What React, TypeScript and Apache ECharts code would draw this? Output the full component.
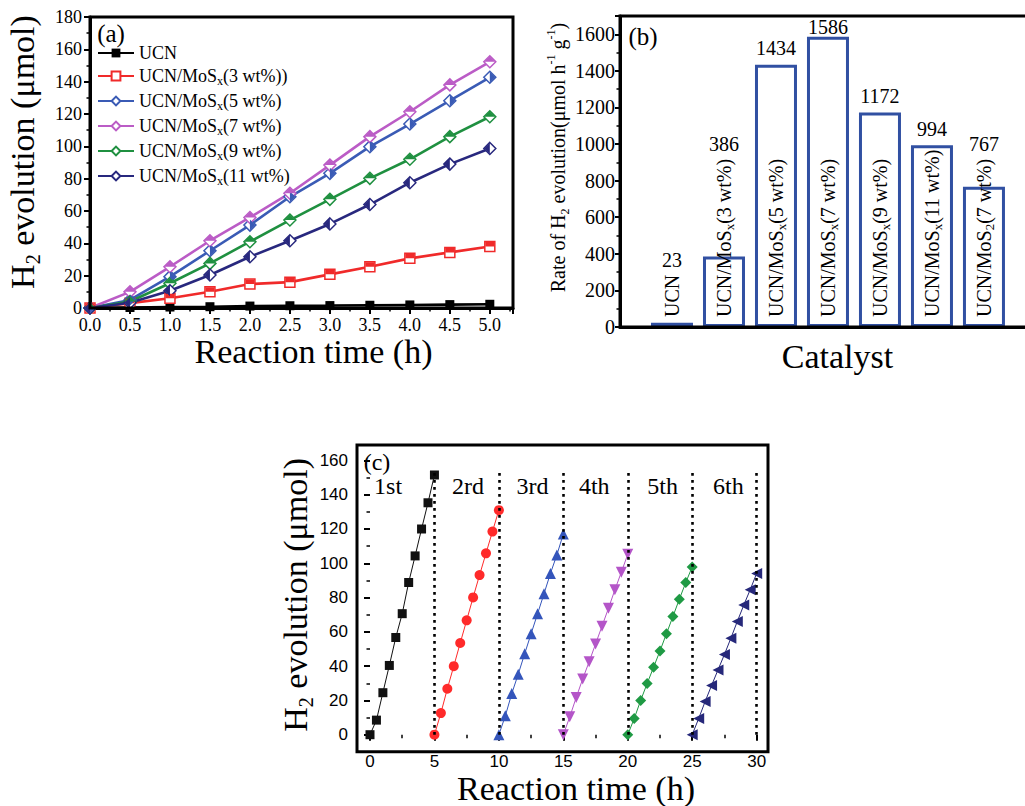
import React, { useEffect, useRef } from 'react';
import * as echarts from 'echarts';

const SERIF = 'Liberation Serif, Times New Roman, serif';
const SANS = 'Liberation Sans, Arial, sans-serif';

// ---------- Panel (a) ----------
const timesA = [0, 0.5, 1, 1.5, 2, 2.5, 3, 3.5, 4, 4.5, 5];
const ucn = [0, 0.3, 0.6, 0.8, 1.2, 1.4, 1.5, 1.7, 1.9, 2.1, 2.3];
const mos3 = [0, 3, 6, 10, 14.8, 16, 20.8, 25.5, 30.7, 34.4, 38];
const mos5 = [0, 5, 19.4, 35.4, 51.3, 68.8, 83.3, 99.8, 113.8, 128.2, 142.7];
const mos7 = [0, 10, 25.5, 41.6, 56, 71, 88.4, 106, 121.4, 138, 152.3];
const mos9 = [0, 4, 15.3, 27.6, 41, 54.4, 67.2, 80.2, 92, 106, 118.3];
const mos11 = [0, 3.3, 10.7, 20.4, 31.7, 41.6, 52, 64, 77.5, 89, 98.7];
const namesA = ['UCN', 'UCN/MoSx(3 wt%))', 'UCN/MoSx(5 wt%)', 'UCN/MoSx(7 wt%)', 'UCN/MoSx(9 wt%)', 'UCN/MoSx(11 wt%)'];
const valuesA = [ucn, mos3, mos5, mos7, mos9, mos11];
const colorsA = ['#000000', '#f02a2a', '#3a5bb5', '#bb5cc6', '#1f9040', '#28287e'];

// ---------- Panel (b) ----------
const catalysts = ['UCN', 'UCN/MoSx(3 wt%)', 'UCN/MoSx(5 wt%)', 'UCN/MoSx(7 wt%)', 'UCN/MoSx(9 wt%)', 'UCN/MoSx(11 wt%)', 'UCN/MoS2(7 wt%)'];
const rates = [23, 386, 1434, 1586, 1172, 994, 767];

// ---------- Panel (c) ----------
const cycleStarts = [0, 5, 10, 15, 20, 25];
const cycleSteps = [0, 0.5, 1, 1.5, 2, 2.5, 3, 3.5, 4, 4.5, 5];
const cycle1 = [0, 8.5, 24.5, 40.4, 56.7, 70.6, 88.8, 104.3, 120, 135.3, 151.5];
const cycle2 = [0, 12.6, 26.8, 40, 53.5, 66.7, 80.1, 93.1, 105.8, 118.5, 131];
const cycle3 = [0, 11, 24, 35.3, 47.2, 58.9, 70.5, 82.2, 94.1, 104.9, 117.1];
const cycle4 = [0, 10.4, 21.7, 32.5, 42.5, 52.9, 63.3, 73.7, 84.5, 94.8, 105.2];
const cycle5 = [0, 9.4, 20, 29.8, 39.3, 48.9, 58.9, 68.9, 79, 88.8, 97.9];
const cycle6 = [0, 9.4, 19.3, 28.7, 37.8, 46.8, 56.3, 66.1, 75.6, 84.6, 94.1];
const cycles = [cycle1, cycle2, cycle3, cycle4, cycle5, cycle6];
const cycleColors = ['#111111', '#ff2a2a', '#3455bb', '#b455c8', '#1f9a44', '#26287a'];
const cycleLabels = ['1st', '2rd', '3rd', '4th', '5th', '6th'];
const cycleLabelX = [1.4, 7.6, 12.6, 17.4, 22.7, 27.8];
const cycleLabelY = 145;
const cycleEnds = [5, 10, 15, 20, 25, 30];
const dottedTop = 155;

const richName = (s: string) => {
  const m = s.match(/^(.*MoS)([x2])(.*)$/);
  if (!m) return `{a|${s}}`;
  return `{a|${m[1]}}{s|${m[2]}}{a|${m[3]}}`;
};

const richStyles = (size: number, sub: number, lh: number, family = SERIF) => ({
  a: { fontFamily: family, fontSize: size, color: '#000', lineHeight: lh },
  s: { fontFamily: family, fontSize: sub, color: '#000', verticalAlign: 'bottom', lineHeight: 6 },
  p: { fontFamily: family, fontSize: sub, color: '#000', verticalAlign: 'top', lineHeight: 6 },
});
const plainRich = (size: number, family = SERIF, lh?: number) => ({
  t: { fontFamily: family, fontSize: size, color: '#000', ...(lh ? { lineHeight: lh } : {}) },
});
const wrapT = (s: string) => `{t|${s}}`;

let measureCtx: CanvasRenderingContext2D | null = null;
const textWidth = (s: string, size: number) => {
  if (!measureCtx) measureCtx = document.createElement('canvas').getContext('2d');
  if (!measureCtx) return s.length * size * 0.5;
  measureCtx.font = `${size}px Liberation Serif`;
  return measureCtx.measureText(s).width;
};
const nameLen = (s: string) => {
  const m = s.match(/^(.*MoS)([x2])(.*)$/);
  if (!m) return textWidth(s, 20);
  return textWidth(m[1], 20) + textWidth(m[2], 13) + textWidth(m[3], 20);
};

const halfSymbols: Record<string, string> = {
  top: 'path://M0,0L2,0L2,1L0,1Z M0,2L0,2Z',
  topD: 'path://M1,0L2,1L0,1Z M1,2L1,2Z',
  rightD: 'path://M1,0L2,1L1,2Z M0,1L0,1Z',
  leftD: 'path://M1,0L1,2L0,1Z M2,1L2,1Z',
};

const axisBase = () => ({
  axisLine: { show: true, onZero: false, lineStyle: { color: '#000', width: 3 } },
  axisTick: { show: true, inside: false, length: 6, lineStyle: { color: '#000', width: 2 } },
  minorTick: { show: true, splitNumber: 2, length: 3.5, lineStyle: { color: '#000', width: 1.5 } },
  splitLine: { show: false },
  minorSplitLine: { show: false },
});

export default function App() {
  const ref = useRef<HTMLDivElement>(null);

  useEffect(() => {
    if (!ref.current) return;
    const chart = echarts.init(ref.current, null, { renderer: 'svg' });

    const aSymbols = ['rect', 'rect', 'diamond', 'diamond', 'diamond', 'diamond'];
    const aSizes = [9, 10, 12, 12, 12, 12];
    const aHalf = [null, 'top', 'rightD', 'topD', 'topD', 'leftD'];

    const seriesA: any[] = [];
    namesA.forEach((name, i) => {
      const data = timesA.map((t, j) => [t, valuesA[i][j]]);
      seriesA.push({
        name,
        type: 'line',
        xAxisIndex: 0,
        yAxisIndex: 0,
        data,
        symbol: aSymbols[i],
        symbolSize: aSizes[i],
        showAllSymbol: true,
        clip: false,
        lineStyle: { color: colorsA[i], width: 2.6 },
        itemStyle: i === 0
          ? { color: colorsA[i] }
          : { color: '#ffffff', borderColor: colorsA[i], borderWidth: 1.5 },
        emphasis: { disabled: true },
        z: 3,
      });
    });
    namesA.forEach((name, i) => {
      const h = aHalf[i];
      if (!h) return;
      seriesA.push({
        name: 'half-' + name,
        type: 'scatter',
        xAxisIndex: 0,
        yAxisIndex: 0,
        data: timesA.map((t, j) => [t, valuesA[i][j]]),
        symbol: halfSymbols[h],
        symbolSize: aSizes[i] - 1,
        itemStyle: { color: colorsA[i], opacity: 1 },
        silent: true,
        clip: false,
        z: 4,
      });
    });

    const cSymbols = ['rect', 'circle', 'triangle', 'triangle', 'diamond', 'triangle'];
    const cRotate = [0, 0, 0, 180, 0, 90];
    const cSizes = [9, 10, 11, 11, 11, 11];
    const seriesC: any[] = cycles.map((vals, i) => ({
      name: 'cycle-' + cycleLabels[i],
      type: 'line',
      xAxisIndex: 2,
      yAxisIndex: 2,
      data: cycleSteps.map((t, j) => [cycleStarts[i] + t, vals[j]]),
      symbol: cSymbols[i],
      symbolRotate: cRotate[i],
      symbolSize: cSizes[i],
      showAllSymbol: true,
      clip: false,
      lineStyle: { color: cycleColors[i], width: 1 },
      itemStyle: { color: cycleColors[i] },
      emphasis: { disabled: true },
      z: 3,
      ...(i === 0
        ? {
            markLine: {
              silent: true,
              symbol: ['none', 'none'],
              label: { show: false },
              lineStyle: { color: '#000', width: 2.6, type: [2.6, 4.4] },
              emphasis: { disabled: true },
              data: cycleEnds.map((x) => [{ coord: [x, 0] }, { coord: [x, dottedTop] }]),
            },
          }
        : {}),
    }));

    seriesC.push({
      name: 'cycle-labels',
      type: 'custom',
      xAxisIndex: 2,
      yAxisIndex: 2,
      silent: true,
      clip: false,
      data: cycleLabelX.map((x) => [x, cycleLabelY]),
      encode: { x: 0, y: 1 },
      renderItem: (params: any, api: any) => {
        const p = api.coord([api.value(0), api.value(1)]);
        return {
          type: 'text',
          x: p[0],
          y: p[1],
          style: {
            text: wrapT(cycleLabels[params.dataIndex]),
            rich: plainRich(24),
            fill: '#000',
            align: 'center',
            verticalAlign: 'middle',
          },
        };
      },
      z: 5,
    });

    const barColor = '#3150a2';
    const seriesB: any[] = [
      {
        name: 'rate',
        type: 'bar',
        xAxisIndex: 1,
        yAxisIndex: 1,
        barWidth: 42,
        data: rates.map((v, i) => ({ name: catalysts[i], value: [i + 1, v] })),
        itemStyle: { color: '#ffffff', borderColor: barColor, borderWidth: 3, opacity: 1 },
        emphasis: { disabled: true },
        label: {
          show: true,
          position: 'insideBottom',
          distance: 10,
          rotate: 90,
          align: 'left',
          verticalAlign: 'middle',
          formatter: (p: any) => richName(p.name),
          rich: richStyles(20, 13, 24),
        },
        z: 2,
      },
      {
        name: 'rate-values',
        type: 'custom',
        xAxisIndex: 1,
        yAxisIndex: 1,
        clip: false,
        silent: true,
        data: rates.map((v, i) => [i + 1, v]),
        encode: { x: 0, y: 1 },
        renderItem: (params: any, api: any) => {
          const i = params.dataIndex;
          const top = api.coord([api.value(0), api.value(1)]);
          const base = api.coord([api.value(0), 0]);
          const frameTop = api.coord([api.value(0), 1700])[1];
          const textTop = base[1] - 10 - nameLen(catalysts[i]);
          let y = Math.min(top[1] - 1.5, textTop) - 5;
          y = Math.max(y, frameTop + 21);
          return {
            type: 'text',
            x: top[0],
            y,
            style: {
              text: wrapT(String(rates[i])),
              rich: plainRich(20),
              fill: '#000',
              align: 'center',
              verticalAlign: 'bottom',
            },
          };
        },
        z: 3,
      },
    ];

    const option: any = {
      animation: false,
      backgroundColor: '#ffffff',
      textStyle: { fontFamily: SERIF },
      grid: [
        { left: 90, top: 17, width: 423, height: 291 },
        { left: 620, top: 16, width: 404, height: 311 },
        { left: 370, top: 445, width: 398, height: 298.3 },
      ],
      xAxis: [
        {
          ...axisBase(),
          gridIndex: 0,
          type: 'value',
          min: 0,
          max: 5.29,
          interval: 0.5,
          axisLabel: {
            margin: 8, showMaxLabel: false,
            formatter: (v: number) => wrapT(v.toFixed(1)),
            rich: plainRich(18),
          },
          name: wrapT('Reaction time (h)'),
          nameLocation: 'middle',
          nameGap: 22,
          nameTextStyle: { padding: [0, 0, 0, 24], rich: plainRich(34, SERIF, 34) },
        },
        {
          gridIndex: 1,
          type: 'value',
          min: 0,
          max: 7.77,
          axisLine: { show: true, onZero: false, lineStyle: { color: '#000', width: 3 } },
          axisTick: { show: false },
          axisLabel: { show: false },
          splitLine: { show: false },
          name: wrapT('Catalyst'),
          nameLocation: 'middle',
          nameGap: 12.5,
          nameTextStyle: { padding: [0, 0, 0, 31], rich: plainRich(34, SERIF, 34) },
        },
        {
          ...axisBase(),
          gridIndex: 2,
          type: 'value',
          min: 0,
          max: 30.88,
          interval: 5,
          offset: 8.4,
          axisLine: { show: false },
          axisLabel: {
            margin: 10, showMaxLabel: false,
            formatter: (v: number) => wrapT(String(v)),
            rich: plainRich(17, SANS),
          },
          name: wrapT('Reaction time (h)'),
          nameLocation: 'middle',
          nameGap: 21,
          nameTextStyle: { padding: [0, 0, 0, 14], rich: plainRich(34, SERIF, 34) },
        },
      ],
      yAxis: [
        {
          ...axisBase(),
          gridIndex: 0,
          type: 'value',
          min: 0,
          max: 180,
          interval: 20,
          axisLabel: {
            margin: 8,
            formatter: (v: number) => wrapT(String(v)),
            rich: plainRich(18),
          },
          name: '{a|H}{s|2}{a| evolution (μmol)}',
          nameLocation: 'middle',
          nameGap: 47.5,
          nameTextStyle: { padding: [0, 0, 0, 21], rich: richStyles(34, 20, 40) },
        },
        {
          ...axisBase(),
          gridIndex: 1,
          type: 'value',
          min: 0,
          max: 1700,
          interval: 200,
          axisTick: { show: true, length: 5, lineStyle: { color: '#000', width: 2 } },
          axisLabel: {
            margin: 5, showMaxLabel: false,
            formatter: (v: number) => wrapT(String(v)),
            rich: plainRich(20),
          },
          name: '{a|Rate of H}{s|2}{a| evolution(μmol h}{p|-1}{a| g}{p|-1}{a|)}',
          nameLocation: 'middle',
          nameGap: 45.5,
          nameTextStyle: { padding: [0, 0, 0, 28], rich: richStyles(20, 12, 26) },
        },
        {
          ...axisBase(),
          gridIndex: 2,
          type: 'value',
          min: 0,
          max: 169,
          interval: 20,
          offset: 13,
          axisLine: { show: false },
          axisLabel: {
            margin: 9, showMaxLabel: false,
            formatter: (v: number) => wrapT(String(v)),
            rich: plainRich(17, SANS),
          },
          name: '{a|H}{s|2}{a| evolution (μmol)}',
          nameLocation: 'middle',
          nameGap: 35.5,
          nameTextStyle: { padding: [0, 10, 0, 0], rich: richStyles(34, 20, 40) },
        },
      ],
      legend: {
        data: namesA,
        orient: 'vertical',
        left: 97,
        top: 44,
        padding: 0,
        itemGap: 5,
        itemWidth: 36,
        itemHeight: 11,
        selectedMode: false,
        formatter: (name: string) => richName(name),
        textStyle: { fontFamily: SERIF, fontSize: 18, color: '#000', rich: richStyles(18, 12, 22) },
      },
      graphic: [
        { type: 'rect', shape: { x: 90, y: 17, width: 423, height: 291 }, style: { fill: 'none', stroke: '#000', lineWidth: 3 }, silent: true, z: 50 },
        { type: 'rect', shape: { x: 620, y: 16, width: 430, height: 311 }, style: { fill: 'none', stroke: '#000', lineWidth: 3 }, silent: true, z: 50 },
        { type: 'rect', shape: { x: 357, y: 445, width: 411, height: 306.7 }, style: { fill: 'none', stroke: '#000', lineWidth: 3 }, silent: true, z: 50 },
        { type: 'text', x: 111, y: 33, style: { text: '(a)', fontFamily: SERIF, fontSize: 25, fill: '#000', align: 'center', verticalAlign: 'middle' }, z: 50 },
        { type: 'text', x: 643, y: 36, style: { text: '(b)', fontFamily: SERIF, fontSize: 25, fill: '#000', align: 'center', verticalAlign: 'middle' }, z: 50 },
        { type: 'text', x: 377, y: 462, style: { text: '(c)', fontFamily: SERIF, fontSize: 24, fill: '#000', align: 'center', verticalAlign: 'middle' }, z: 50 },
      ],
      series: [...seriesA, ...seriesB, ...seriesC],
    };

    chart.setOption(option);
    return () => chart.dispose();
  }, []);

  return (
    <div
      ref={ref}
      style={{ position: 'absolute', left: 0, top: 0, width: 1025, height: 806, background: '#fff' }}
    />
  );
}
